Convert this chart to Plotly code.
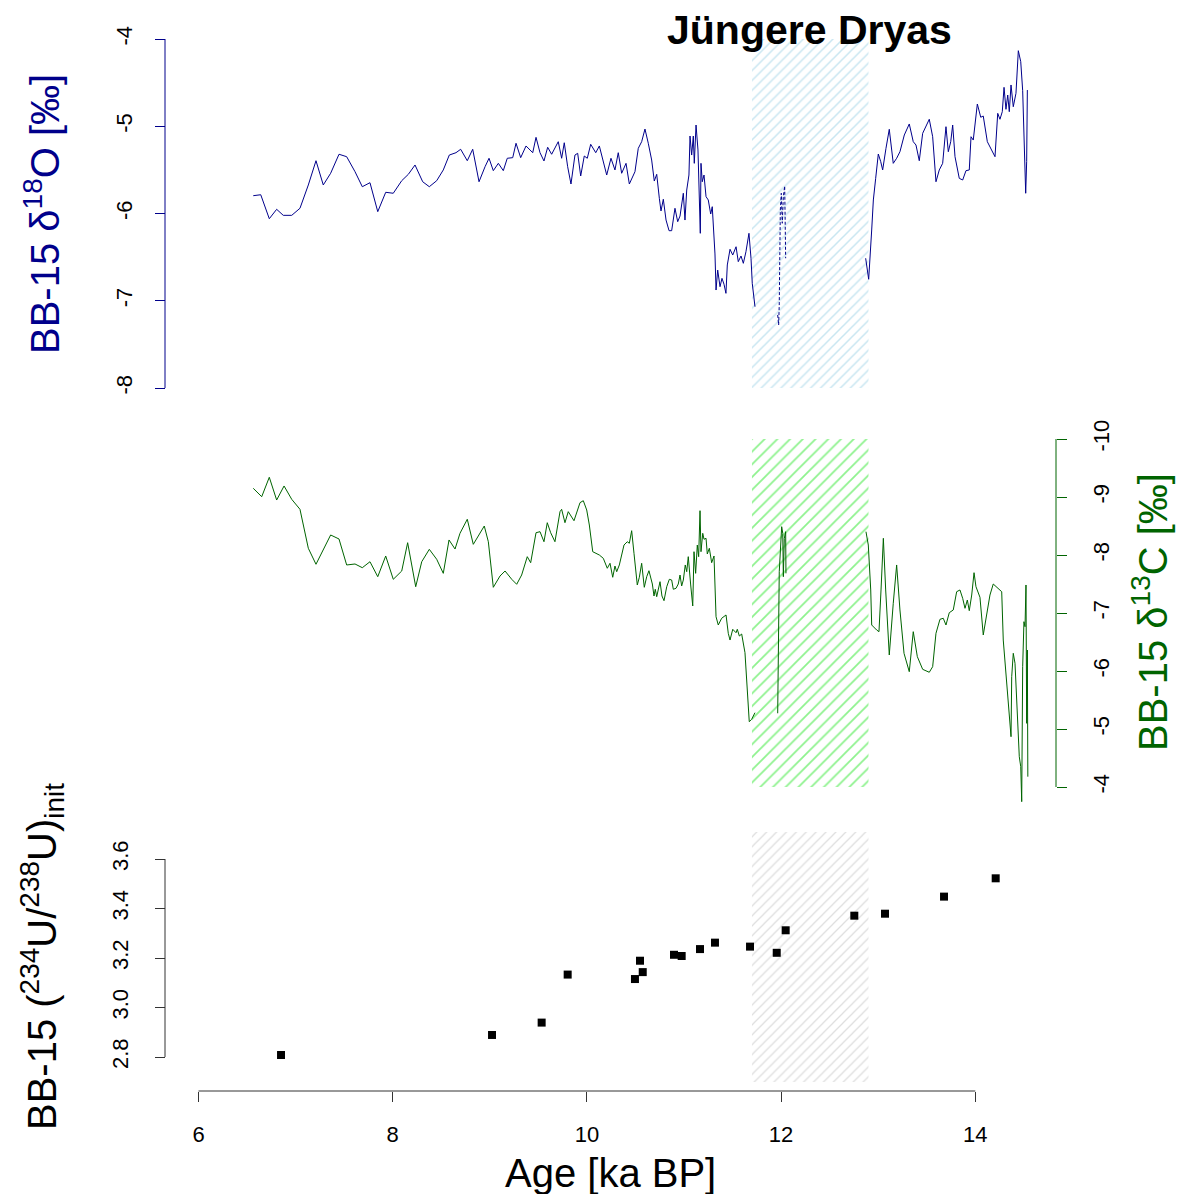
import plotly.graph_objects as go

# ---------------- data ----------------
# delta18O (BB-15), solid segments (None = gap)
age_o18 = [6.564, 6.641, 6.729, 6.805, 6.873, 6.960, 7.045, 7.131, 7.210, 7.285, 7.361, 7.447, 7.526, 7.612,
           7.687, 7.766, 7.846, 7.928, 8.006, 8.093, 8.161, 8.230, 8.309, 8.377, 8.453, 8.521, 8.583, 8.652,
           8.700, 8.768, 8.824, 8.889, 8.951, 8.992, 9.036, 9.088, 9.139, 9.180, 9.236, 9.270, 9.318, 9.373,
           9.442, 9.476, 9.517, 9.558, 9.596, 9.637, 9.705, 9.740, 9.767, 9.802, 9.836, 9.877, 9.905, 9.936,
           9.973, 10.004, 10.039, 10.091, 10.128, 10.204, 10.248, 10.289, 10.323, 10.358, 10.403, 10.437,
           10.495, 10.529, 10.564, 10.598, 10.632, 10.667, 10.694, 10.719, 10.746, 10.763, 10.787, 10.815,
           10.846, 10.873, 10.907, 10.935, 10.959, 10.993, 11.010, 11.028, 11.051, 11.062, 11.079, 11.096,
           11.106, 11.124, 11.144, 11.158, 11.168, 11.175, 11.188, 11.206, 11.227, 11.250, 11.275, 11.291,
           11.319, 11.330, 11.347, 11.371, 11.391, 11.412, 11.432, 11.446, 11.474, 11.502, 11.536, 11.559,
           11.587, 11.611, 11.638, 11.669, 11.690, 11.703, 11.731,
           None,
           12.871, 12.902, 12.933, 12.950, 12.974, 13.001, 13.026, 13.046, 13.080, 13.114, 13.155, 13.190,
           13.224, 13.269, 13.320, 13.361, 13.389, 13.423, 13.458, 13.526, 13.561, 13.595, 13.629, 13.664,
           13.698, 13.722, 13.747, 13.767, 13.791, 13.835, 13.870, 13.904, 13.938, 13.956, 13.979, 14.021,
           14.056, 14.082, 14.124, 14.169, 14.203, 14.231, 14.254, 14.278, 14.296, 14.316, 14.334, 14.350,
           14.368, 14.391, 14.419, 14.443, 14.468, 14.488, 14.501, 14.512, 14.519, 14.529, 14.536]
d18o = [-5.796, -5.785, -6.060, -5.952, -6.021, -6.021, -5.940, -5.673, -5.395, -5.673, -5.539, -5.321, -5.349,
        -5.521, -5.693, -5.647, -5.979, -5.757, -5.768, -5.624, -5.551, -5.444, -5.636, -5.693, -5.624, -5.501,
        -5.330, -5.303, -5.264, -5.395, -5.264, -5.636, -5.464, -5.367, -5.509, -5.425, -5.509, -5.367, -5.360,
        -5.195, -5.360, -5.226, -5.303, -5.127, -5.303, -5.398, -5.241, -5.321, -5.177, -5.367, -5.189, -5.464,
        -5.662, -5.330, -5.310, -5.570, -5.341, -5.367, -5.207, -5.303, -5.226, -5.559, -5.367, -5.501, -5.303,
        -5.539, -5.425, -5.662, -5.521, -5.253, -5.177, -5.032, -5.195, -5.387, -5.628, -5.551, -5.826, -5.971,
        -5.837, -6.075, -6.197, -6.197, -5.940, -6.094, -6.029, -5.768, -6.075, -5.731, -5.559, -5.112, -5.330,
        -5.112, -5.425, -4.986, -5.272, -5.979, -6.227, -5.425, -5.636, -5.559, -5.807, -5.845, -6.006, -5.922,
        -6.464, -6.877, -6.648, -6.839, -6.743, -6.811, -6.915, -6.590, -6.410, -6.476, -6.381, -6.552, -6.487,
        -6.571, -6.438, -6.227, -6.513, -6.800, -7.068,
        None,
        -6.513, -6.754, -6.189, -5.845, -5.597, -5.318, -5.406, -5.501, -5.253, -5.035, -5.425, -5.367, -5.292,
        -5.100, -4.974, -5.177, -5.215, -5.395, -5.081, -4.920, -5.120, -5.636, -5.501, -5.425, -5.005, -5.292,
        -5.177, -4.986, -5.349, -5.597, -5.616, -5.509, -5.501, -5.120, -5.158, -4.745, -4.897, -4.883, -5.177,
        -5.272, -5.349, -4.852, -4.920, -4.833, -4.554, -4.806, -4.642, -4.833, -4.527, -4.776, -4.622, -4.134,
        -4.260, -4.593, -5.120, -5.425, -5.768, -5.406, -4.585]
# delta18O inside the Younger Dryas (dashed)
age_o18_yd = [11.965, 11.975, 11.981, 11.992, 12.002, 12.012, 12.023, 12.037, 12.047]
d18o_yd = [-7.163, -7.278, -7.037, -5.960, -5.768, -6.112, -5.807, -5.685, -6.513]

# delta13C (BB-15)
age_c13 = [6.564, 6.651, 6.729, 6.805, 6.881, 6.960, 7.045, 7.131, 7.210, 7.285, 7.361, 7.447, 7.526, 7.612,
           7.687, 7.766, 7.846, 7.928, 8.006, 8.093, 8.154, 8.237, 8.299, 8.377, 8.453, 8.521, 8.580, 8.642,
           8.693, 8.768, 8.830, 8.943, 8.985, 9.036, 9.105, 9.157, 9.201, 9.226, 9.277, 9.328, 9.386, 9.421,
           9.476, 9.517, 9.558, 9.592, 9.627, 9.671, 9.723, 9.740, 9.774, 9.808, 9.867, 9.929, 9.963, 9.998,
           10.025, 10.060, 10.128, 10.169, 10.210, 10.238, 10.266, 10.289, 10.307, 10.334, 10.382, 10.416,
           10.437, 10.461, 10.485, 10.519, 10.540, 10.564, 10.591, 10.616, 10.639, 10.657, 10.674, 10.691,
           10.704, 10.719, 10.735, 10.753, 10.773, 10.794, 10.822, 10.849, 10.873, 10.890, 10.918, 10.941,
           10.959, 10.976, 10.993, 11.013, 11.028, 11.044, 11.069, 11.090, 11.103, 11.120, 11.137, 11.151,
           11.165, 11.175, 11.193, 11.206, 11.227, 11.240, 11.261, 11.285, 11.309, 11.319, 11.330, 11.353,
           11.388, 11.433, 11.456, 11.474, 11.502, 11.536, 11.549, 11.570, 11.594, 11.628, 11.652, 11.672,
           11.697, 11.731,
           None,
           11.965, 11.981, 12.006, 12.017, 12.023, 12.033, 12.047, 12.050,
           None,
           12.874, 12.898, 12.923, 12.933, 12.984, 13.008, 13.029, 13.053, 13.077, 13.114, 13.155, 13.190,
           13.224, 13.266, 13.320, 13.361, 13.403, 13.458, 13.526, 13.561, 13.595, 13.636, 13.670, 13.698,
           13.732, 13.773, 13.808, 13.842, 13.870, 13.894, 13.918, 13.938, 13.963, 13.987, 14.007, 14.048,
           14.082, 14.117, 14.151, 14.185, 14.237, 14.272, 14.288, 14.323, 14.357, 14.368, 14.375, 14.391,
           14.409, 14.426, 14.453, 14.468, 14.478, 14.488, 14.501, 14.512, 14.522, 14.529, 14.536, 14.541]
d13c = [-9.150, -9.005, -9.340, -8.948, -9.190, -8.960, -8.788, -8.116, -7.840, -8.086, -8.345, -8.276, -7.828,
        -7.845, -7.781, -7.884, -7.626, -7.983, -7.581, -7.724, -8.212, -7.453, -7.884, -8.098, -7.926, -7.684,
        -8.259, -8.103, -8.374, -8.616, -8.184, -8.500, -8.229, -7.443, -7.638, -7.724, -7.626, -7.581, -7.495,
        -7.655, -7.971, -7.867, -8.384, -8.402, -8.229, -8.557, -8.384, -8.229, -8.747, -8.788, -8.557, -8.747,
        -8.591, -8.902, -8.936, -8.776, -8.517, -8.057, -8.000, -7.943, -7.771, -7.857, -7.616, -7.810, -7.712,
        -7.828, -8.172, -8.229, -8.202, -8.419, -8.029, -7.483, -7.616, -7.857, -7.443, -7.626, -7.729, -7.626,
        -7.500, -7.293, -7.409, -7.281, -7.397, -7.540, -7.293, -7.212, -7.453, -7.581, -7.569, -7.409, -7.426,
        -7.500, -7.655, -7.466, -7.569, -7.828, -7.712, -7.971, -7.483, -7.121, -8.057, -7.684, -8.172, -7.971,
        -8.764, -8.057, -8.374, -8.271, -8.288, -8.017, -8.116, -7.867, -7.983, -7.453, -6.936, -6.793, -6.909,
        -6.966, -6.650, -6.534, -6.719, -6.660, -6.719, -6.603, -6.638, -6.316, -5.672, -5.126, -5.167, -5.281,
        None,
        -5.271, -7.712, -8.488, -8.374, -7.626, -8.288, -8.402, -7.684,
        None,
        -8.402, -8.172, -7.397, -6.793, -6.707, -6.678, -7.397, -8.288, -7.397, -6.276, -7.167, -7.828, -7.052,
        -6.305, -5.988, -6.678, -6.247, -6.029, -5.978, -6.074, -6.650, -6.891, -6.909, -6.793, -7.005, -7.052,
        -7.367, -7.397, -7.253, -7.081, -7.224, -7.040, -7.310, -7.695, -7.453, -7.271, -6.621, -6.966, -7.310,
        -7.500, -7.426, -7.367, -6.534, -5.845, -5.040, -4.867, -5.902, -6.305, -6.133, -5.557, -4.522, -4.350,
        -3.747, -6.074, -6.850, -6.764, -7.483, -5.098, -6.362, -4.178]

# (234U/238U) initial activity ratios
age_u = [6.85, 9.023, 9.534, 9.802, 10.495, 10.547, 10.575, 10.897, 10.976, 11.165, 11.319, 11.680, 11.955,
         12.047, 12.754, 13.070, 13.678, 14.210]
u_ratio = [2.808, 2.889, 2.939, 3.133, 3.115, 3.189, 3.143, 3.213, 3.208, 3.236, 3.262, 3.246, 3.221,
           3.312, 3.371, 3.379, 3.448, 3.522]

# Younger Dryas interval [ka BP]
yd_start, yd_end = 11.7, 12.9
o18_ticks = [-8, -7, -6, -5, -4]
o18_ticktext = ["-8", "-7", "-6", "-5", "-4"]
c13_ticks = [-10, -9, -8, -7, -6, -5, -4]
c13_ticktext = ["-10", "-9", "-8", "-7", "-6", "-5", "-4"]
u_ticks = [2.8, 3.0, 3.2, 3.4, 3.6]
u_ticktext = ["2.8", "3.0", "3.2", "3.4", "3.6"]
age_ticks = [6, 8, 10, 12, 14]

# ---------------- layout helpers ----------------
W, H = 1180, 1194
FONT = "Liberation Sans, Arial, sans-serif"
BLUE = "#00008B"
GREEN = "#006400"


def px_x(p):
    return p / W


def px_y(p):
    return 1 - p / H


x_dom = [px_x(150), px_x(1045)]
x_rng = [6 + (150 - 198.5) / 97.1, 6 + (1045 - 198.5) / 97.1]

fig = go.Figure()

yd_mid = (yd_start + yd_end) / 2
yd_w = yd_end - yd_start


def band(xa, ya, lo, hi, color, size, solidity):
    fig.add_trace(go.Bar(
        x=[yd_mid], y=[hi - lo], base=[lo], width=[yd_w], xaxis=xa, yaxis=ya,
        marker=dict(color="rgba(0,0,0,0)", line=dict(width=0),
                    pattern=dict(shape="/", fgcolor=color, bgcolor="rgba(0,0,0,0)",
                                 size=size, solidity=solidity)),
        showlegend=False, hoverinfo="skip"))


band("x", "y", -8, -4, "#94cde3", 7, 0.22)
band("x2", "y2", -10, -4, "#1ee61e", 9, 0.2)
band("x3", "y3", 2.699, 3.709, "#bdbdbd", 7, 0.18)

fig.add_trace(go.Scatter(x=age_o18, y=d18o, mode="lines", line=dict(color=BLUE, width=1),
                         xaxis="x", yaxis="y", showlegend=False, connectgaps=False))
fig.add_trace(go.Scatter(x=age_o18_yd, y=d18o_yd, mode="lines", line=dict(color=BLUE, width=1, dash="3px,2px"),
                         xaxis="x", yaxis="y", showlegend=False))
fig.add_trace(go.Scatter(x=age_c13, y=d13c, mode="lines", line=dict(color=GREEN, width=1),
                         xaxis="x2", yaxis="y2", showlegend=False, connectgaps=False))
fig.add_trace(go.Scatter(x=age_u, y=u_ratio, mode="markers",
                         marker=dict(symbol="square", size=8, color="black"),
                         xaxis="x3", yaxis="y3", showlegend=False))

tickfont = dict(family=FONT, size=22, color="black")
hidden_x = dict(domain=x_dom, range=x_rng, visible=False, showgrid=False, zeroline=False, automargin=False)

fig.update_layout(
    width=W, height=H, margin=dict(l=0, r=0, t=0, b=0, autoexpand=False),
    paper_bgcolor="white", plot_bgcolor="rgba(0,0,0,0)",
    barmode="overlay",
    xaxis=dict(hidden_x, anchor="y"),
    xaxis2=dict(hidden_x, anchor="y2"),
    xaxis3=dict(domain=x_dom, range=x_rng, anchor="free", position=px_y(1091),
                tickvals=age_ticks, ticks="outside", ticklen=10, tickcolor="#333",
                showline=False, showgrid=False, zeroline=False, tickfont=tickfont,
                ticklabelstandoff=14, automargin=False),
    yaxis=dict(domain=[px_y(388), px_y(39)], range=[-8, -4], anchor="free", position=px_x(165),
               tickvals=o18_ticks, ticktext=o18_ticktext, ticks="outside", ticklen=10, tickcolor=BLUE,
               tickangle=-90,
               showline=False, showgrid=False, zeroline=False, tickfont=tickfont,
               ticklabelstandoff=14, automargin=False),
    yaxis2=dict(domain=[px_y(810), px_y(430)], range=[-4 + 23 / 58, -10 - 9 / 58], anchor="free",
                position=px_x(1056), side="right",
                tickvals=c13_ticks, ticktext=c13_ticktext, ticks="outside", ticklen=10, tickcolor=GREEN,
                tickangle=-90,
                showline=False, showgrid=False, zeroline=False, tickfont=tickfont,
                ticklabelstandoff=16, automargin=False),
    yaxis3=dict(domain=[px_y(1085), px_y(825)], range=[2.8 - 28 / 247.5, 3.6 + 34 / 247.5], anchor="free",
                position=px_x(165),
                tickvals=u_ticks, ticktext=u_ticktext, ticks="outside", ticklen=10, tickcolor="#333",
                tickangle=-90,
                showline=False, showgrid=False, zeroline=False, tickfont=tickfont,
                ticklabelstandoff=18, automargin=False),
)

# R-style axis lines spanning only the tick range
fig.add_shape(type="line", xref="paper", yref="y", x0=px_x(165), x1=px_x(165), y0=-8, y1=-4,
              line=dict(color=BLUE, width=1))
fig.add_shape(type="line", xref="paper", yref="y2", x0=px_x(1056), x1=px_x(1056), y0=-10, y1=-4,
              line=dict(color=GREEN, width=1))
fig.add_shape(type="line", xref="paper", yref="y3", x0=px_x(165), x1=px_x(165), y0=2.8, y1=3.6,
              line=dict(color="#333", width=1))
fig.add_shape(type="line", xref="x3", yref="paper", x0=6, x1=14, y0=px_y(1091), y1=px_y(1091),
              line=dict(color="#333", width=1))

ann = [
    dict(text="<b>Jüngere Dryas</b>", x=px_x(810), y=px_y(30), font=dict(size=41, color="black")),
    dict(text="BB-15 δ<sup>18</sup>O [‰]", x=px_x(42), y=px_y(214), textangle=-90,
         font=dict(size=40, color=BLUE)),
    dict(text="BB-15 δ<sup>13</sup>C [‰]", x=px_x(1150), y=px_y(612), textangle=-90,
         font=dict(size=40, color=GREEN)),
    dict(text="BB-15 (<sup>234</sup>U/<sup>238</sup>U)<sub>init</sub>", x=px_x(42), y=px_y(957),
         textangle=-90, font=dict(size=40, color="black")),
    dict(text="Age [ka BP]", x=px_x(610), y=px_y(1173), font=dict(size=40, color="black")),
]
for a in ann:
    a["font"]["family"] = FONT
    fig.add_annotation(xref="paper", yref="paper", showarrow=False, xanchor="center", yanchor="middle", **a)

fig.write_html("out.html")
